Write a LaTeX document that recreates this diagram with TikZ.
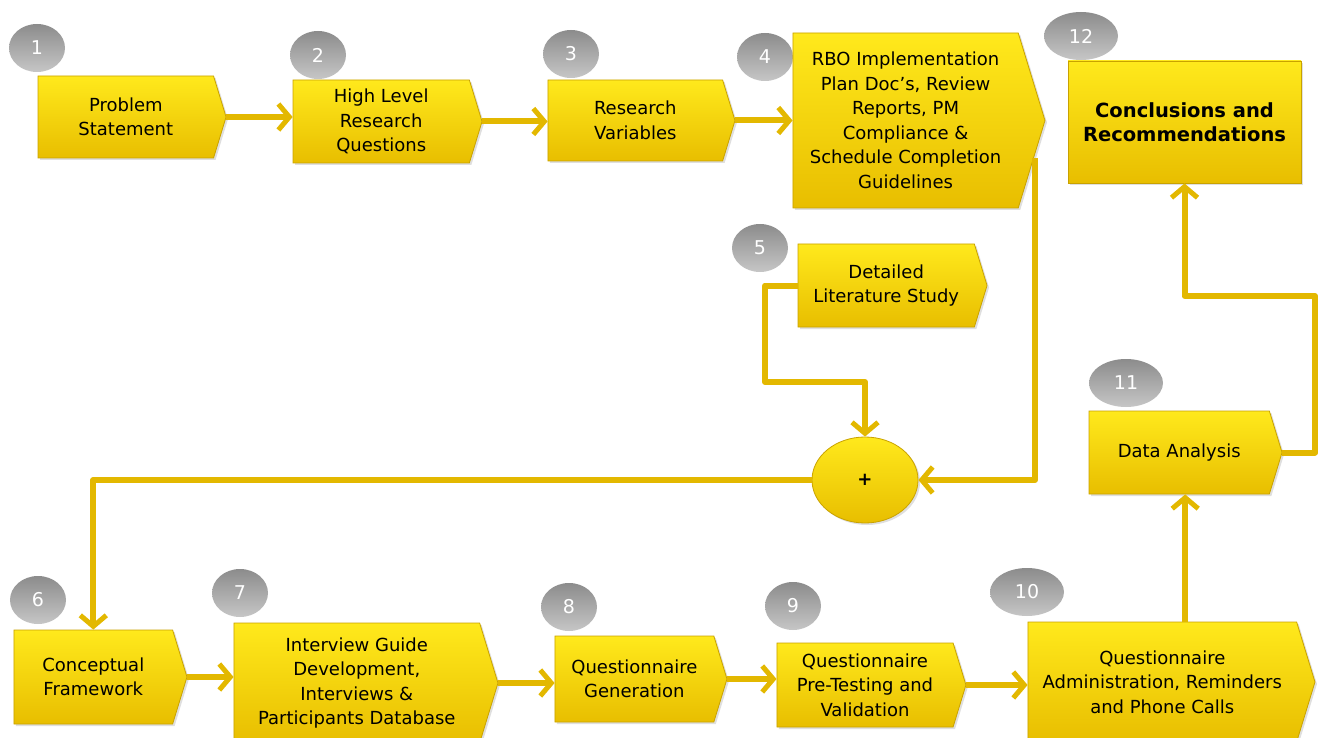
\documentclass[tikz,border=0pt]{standalone}
\usepackage{fontspec}
\setmainfont{DejaVu Sans}
\usetikzlibrary{shapes.symbols,shapes.geometric,arrows.meta,shadows}

\definecolor{boxtop}{HTML}{FFE91C}
\definecolor{boxbot}{HTML}{E8BE00}
\definecolor{boxline}{HTML}{C9A200}
\definecolor{wirecol}{HTML}{E3B800}
\definecolor{badgetop}{HTML}{8C8C8C}
\definecolor{badgebot}{HTML}{C6C6C6}

\begin{document}
\begin{tikzpicture}[x=1pt, y=-1pt,
  every node/.style={font=\fontsize{18}{24.5}\selectfont},
  stepbox/.style={shape=signal, signal to=east, signal pointer angle=146,
    draw=boxline, line width=0.8pt, top color=boxtop, bottom color=boxbot,
    align=center, inner sep=0pt,
    drop shadow={opacity=0.25, shadow xshift=2pt, shadow yshift=-2pt}},
  plainbox/.style={stepbox, shape=rectangle},
  badge/.style={ellipse, top color=badgetop, bottom color=badgebot,
    text=white, inner sep=0pt, font=\fontsize{19}{19}\selectfont},
  wire/.style={draw=wirecol, line width=6pt, line join=round},
  flow/.style={wire, -{Straight Barb[length=11pt, width=26pt, line width=5pt]}}]

\useasboundingbox (0,0) rectangle (1320,738);

% --- number badges ---
\foreach \n/\x/\y/\w in {1/37/48/56, 2/318/55/56, 3/571/54/56, 4/765/57/56,
    5/760/248/56, 6/38/600/56, 7/240/593/56, 8/569/607/56, 9/793/606/56,
    10/1027/592/74, 11/1126/383/74, 12/1081/36/74} {
  \node[badge, minimum width=\w pt, minimum height=48pt] (b\n) at (\x,\y) {\n};
}

% --- top row ---
\node[stepbox, minimum width=188pt, minimum height=82pt] (prob) at (125.8,117) {Problem\\Statement};
\node[stepbox, minimum width=189pt, minimum height=83pt] (hlrq) at (381.2,121.5) {High Level\\Research\\Questions};
\node[stepbox, minimum width=187pt, minimum height=81pt] (vars) at (635.3,120.5) {Research\\Variables};
\node[stepbox, minimum width=252pt, minimum height=175pt] (rbo) at (905.6,120.5)
  {RBO Implementation\\Plan Doc’s, Review\\Reports, PM\\Compliance \&\\Schedule Completion\\Guidelines};
\node[plainbox, minimum width=233pt, minimum height=122pt,
  font=\fontsize{19.5}{24}\selectfont\bfseries] (concl) at (1184.5,122)
  {Conclusions and\\Recommendations};

% --- middle ---
\node[stepbox, minimum width=189pt, minimum height=83pt] (lit) at (886.2,285.5) {Detailed\\Literature Study};
\node[stepbox, shape=ellipse, minimum width=106pt, minimum height=86pt] (plus) at (865,480) {\bfseries +};
\node[stepbox, minimum width=193pt, minimum height=83pt] (data) at (1179.2,452.5) {Data Analysis};

% --- bottom row ---
\node[stepbox, minimum width=173pt, minimum height=94pt] (concept) at (93.3,677) {Conceptual\\Framework};
\node[stepbox, minimum width=264pt, minimum height=120pt] (intv) at (356.8,683)
  {Interview Guide\\Development,\\Interviews \&\\Participants Database};
\node[stepbox, minimum width=172pt, minimum height=86pt] (qgen) at (634.4,679) {Questionnaire\\Generation};
\node[stepbox, minimum width=189pt, minimum height=84pt] (qtest) at (865,685) {Questionnaire\\Pre-Testing and\\Validation};
\node[stepbox, minimum width=287pt, minimum height=120pt] (qadm) at (1162.3,682)
  {Questionnaire\\Administration, Reminders\\and Phone Calls};

% bend points
\coordinate (litbend) at (765,382);
\coordinate (rbodrop) at (1035,158);
\coordinate (databend) at (1315,296);
\coordinate (dataport) at ([xshift=6pt]data.south);

% --- connectors ---
\draw[flow] (prob.east) -- (prob.east -| hlrq.west);
\draw[flow] (hlrq.east) -- (hlrq.east -| vars.west);
\draw[flow] (vars.east) -- (vars.east -| rbo.west);
\draw[flow] (rbodrop) |- (plus.east);
\draw[flow] (lit.west) -| (litbend) -| (plus.north);
\draw[flow] (plus.west) -| (concept.north);
\draw[flow] (concept.east) -- (concept.east -| intv.west);
\draw[flow] (intv.east) -- (intv.east -| qgen.west);
\draw[flow] (qgen.east) -- (qgen.east -| qtest.west);
\draw[flow] (qtest.east) -- (qtest.east -| qadm.west);
\draw[flow] (dataport |- qadm.north) -- (dataport);
\draw[flow] (data.east) -| (databend) -| (concl.south);

\end{tikzpicture}
\end{document}
